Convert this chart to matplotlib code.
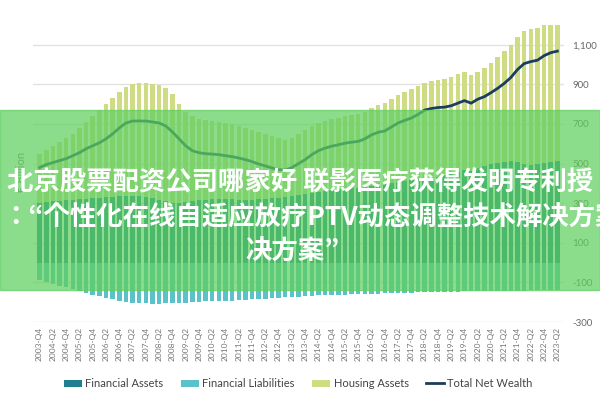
import numpy as np
import matplotlib.pyplot as plt
from matplotlib.patches import Rectangle

quarters = ["2003-Q4"] + [f"{y}-Q{q}" for y in range(2004, 2023) for q in range(1, 5)] + ["2023-Q1", "2023-Q2"]

net_wealth = [480,
    495, 505, 515, 525, 540, 555, 575, 590, 605, 625, 650, 680, 705, 715, 715, 715,
    710, 705, 690, 660, 625, 590, 565, 555, 550, 548, 545, 540, 535, 528, 520, 510,
    498, 488, 478, 470, 467, 480, 500, 520, 545, 565, 578, 588, 595, 603, 608, 612,
    625, 645, 658, 665, 685, 705, 718, 730, 748, 770, 778, 783, 785, 792, 805, 818,
    805, 825, 838, 858, 880, 905, 935, 975, 1005, 1015, 1022, 1045, 1060, 1068]

assets_top = [550,
    570, 590, 610, 630, 650, 680, 710, 740, 770, 800, 830, 860, 885, 900, 905, 905,
    900, 895, 880, 850, 800, 760, 740, 725, 720, 715, 710, 705, 700, 690, 680, 670,
    660, 650, 640, 630, 620, 630, 650, 670, 690, 705, 715, 725, 730, 740, 745, 750,
    760, 780, 795, 805, 825, 845, 860, 875, 890, 905, 915, 920, 925, 935, 950, 960,
    945, 965, 985, 1010, 1040, 1070, 1100, 1140, 1170, 1180, 1185, 1200, 1200, 1200]

financial_assets = [300,
    305, 310, 312, 315, 318, 320, 322, 325, 328, 330, 332, 335, 335, 338, 335, 330,
    325, 318, 310, 300, 300, 305, 310, 315, 318, 320, 322, 320, 322, 318, 315, 318,
    320, 322, 325, 328, 330, 335, 340, 345, 350, 355, 360, 365, 370, 372, 375, 378,
    380, 385, 390, 395, 400, 405, 410, 415, 420, 425, 428, 430, 440, 450, 460, 470,
    465, 480, 490, 500, 505, 510, 515, 510, 500, 495, 498, 505, 510, 515]

financial_liabilities = [-90,
    -100, -110, -118, -125, -135, -145, -155, -165, -170, -178, -185, -192, -198, -202, -205, -206,
    -207, -207, -206, -205, -204, -202, -200, -198, -196, -195, -194, -193, -192, -190, -188, -186,
    -184, -182, -180, -178, -176, -174, -172, -170, -168, -166, -165, -164, -163, -162, -161, -160,
    -159, -158, -157, -156, -155, -154, -153, -152, -151, -150, -149, -148, -147, -146, -146, -145,
    -145, -144, -144, -143, -143, -142, -142, -141, -141, -140, -140, -140, -140, -140]

housing_assets = np.array(assets_top) - np.array(financial_assets)

c_fa = "#1d7f8f"
c_fl = "#5cc2c9"
c_ha = "#cfdc84"
c_nw = "#1b3d5e"

plt.rcParams["font.family"] = "Lato"
fig = plt.figure(figsize=(6, 4), dpi=100)
ax = fig.add_axes([0.055, 0.195, 0.885, 0.75])

x = np.arange(len(quarters))
b1 = ax.bar(x, financial_assets, width=0.68, color=c_fa, label="Financial Assets", zorder=2)
b2 = ax.bar(x, financial_liabilities, width=0.68, color=c_fl, label="Financial Liabilities", zorder=2)
b3 = ax.bar(x, housing_assets, bottom=financial_assets, width=0.68, color=c_ha, label="Housing Assets", zorder=2)
l1, = ax.plot(x, net_wealth, color=c_nw, lw=2, label="Total Net Wealth", zorder=3)

ax.set_ylim(-300, 1215)
ax.set_xlim(-1, len(quarters))
ax.set_yticks(range(-300, 1101, 200))
ax.set_yticklabels([f"{v:,}" for v in range(-300, 1101, 200)])
ax.yaxis.tick_right()
ax.tick_params(axis="y", length=0, labelsize=7, colors="#666666", pad=6)
ax.grid(axis="y", color="#e2e2e2", lw=1, zorder=0)
ax.set_xticks(x[::2])
ax.set_xticklabels(quarters[::2], rotation=90, fontsize=6, color="#777777")
ax.tick_params(axis="x", length=0)
for s in ax.spines.values():
    s.set_visible(False)
ax.set_ylabel("€ Billion", fontsize=8, color="#777777")
ax.yaxis.set_label_position("left")

ax.legend([b1, b2, b3, l1], ["Financial Assets", "Financial Liabilities", "Housing Assets", "Total Net Wealth"],
          loc="center", bbox_to_anchor=(0.5, -0.205), ncol=4, frameon=False,
          fontsize=8, handlelength=1.6, handleheight=0.6, handletextpad=0.3,
          columnspacing=1.6, labelcolor="#444444")

# overlay banner
fig.patches.append(Rectangle((0, 0.275), 1, 0.45, transform=fig.transFigure,
                             color="#5fcf5f", alpha=0.72, zorder=10))
kw = dict(fontfamily=["Noto Sans CJK SC", "Noto Sans CJK JP", "Noto Sans CJK TC"],
          fontsize=19, fontweight="bold", color="white",
          ha="center", va="center", zorder=11)
fig.text(0.5, 0.542, "北京股票配资公司哪家好 联影医疗获得发明专利授", **kw)
fig.text(0.52, 0.455, "：“个性化在线自适应放疗PTV动态调整技术解决方案", **kw)
fig.text(0.487, 0.37, "决方案”", **kw)

fig.savefig("out.png")
